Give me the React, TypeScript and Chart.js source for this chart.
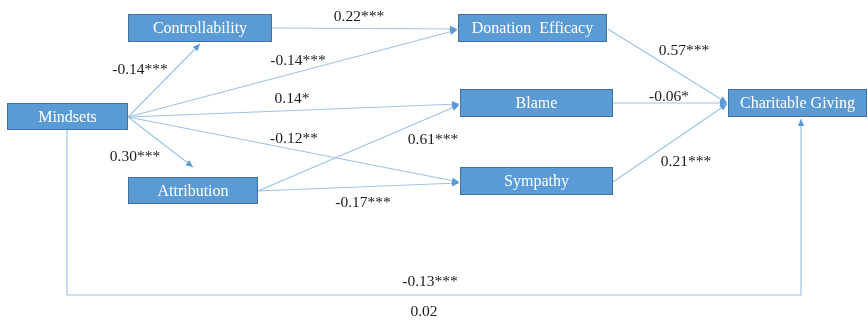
import React, { useEffect, useRef } from "react";
import { Chart, registerables } from "chart.js";

Chart.register(...registerables);

// Path-model nodes (variables)
const nodeNames = [
  "Mindsets",
  "Controllability",
  "Attribution",
  "Donation  Efficacy",
  "Blame",
  "Sympathy",
  "Charitable Giving",
];

// Path coefficients (as printed)
const coefficients = [
  "0.22***",
  "-0.14***",
  "-0.14***",
  "0.14*",
  "-0.12**",
  "0.30***",
  "0.61***",
  "-0.17***",
  "0.57***",
  "-0.06*",
  "0.21***",
  "-0.13***",
  "0.02",
];

// ---- layout (diagram coordinates, in the 868 x 320 frame) ----
const nodeBoxes: [number, number, number, number][] = [
  [7, 103, 128, 130],
  [128, 14, 272, 42],
  [128, 177, 258, 204],
  [458, 14, 607, 42],
  [460, 89, 613, 117],
  [460, 167, 613, 195],
  [728, 89, 867, 117],
];

const edgePaths: [number, number][][] = [
  [[272, 28], [457, 29]],
  [[128, 117], [200, 44]],
  [[128, 117], [457, 30]],
  [[128, 117], [459, 104]],
  [[128, 117], [459, 182]],
  [[128, 117], [193, 167]],
  [[258, 191], [459, 105]],
  [[258, 191], [459, 183]],
  [[608, 29], [727, 103]],
  [[613, 103], [727, 103]],
  [[613, 182], [727, 104]],
  [[67, 130], [67, 295], [801, 295], [801, 119]],
];

const labelPos: [number, number][] = [
  [359, 16],
  [140, 69],
  [298, 60],
  [292, 98],
  [294, 138],
  [135, 156],
  [433, 139],
  [363, 202],
  [684, 50],
  [669, 96],
  [686, 161],
  [430, 281],
  [424, 311],
];

const W = 868;
const H = 320;
const LINE = "#9dc3e6";
const ARROW = "#5b9bd5";
const FILL = "#5b9bd5";
const BORDER = "#41719c";

const diagramPlugin = {
  id: "diagram",
  afterDatasetsDraw(chart: any) {
    const ctx = chart.ctx;
    const xs = chart.scales.x;
    const ys = chart.scales.y;
    const px = (v: number) => xs.getPixelForValue(v);
    const py = (v: number) => ys.getPixelForValue(v);
    ctx.save();
    // arrowheads
    edgePaths.forEach((p) => {
      const a = p[p.length - 2];
      const b = p[p.length - 1];
      const x1 = px(a[0]), y1 = py(a[1]);
      const x2 = px(b[0]), y2 = py(b[1]);
      const ang = Math.atan2(y2 - y1, x2 - x1);
      const len = 7, wid = 3.2;
      ctx.beginPath();
      ctx.moveTo(x2, y2);
      ctx.lineTo(
        x2 - len * Math.cos(ang) + wid * Math.sin(ang),
        y2 - len * Math.sin(ang) - wid * Math.cos(ang)
      );
      ctx.lineTo(
        x2 - len * Math.cos(ang) - wid * Math.sin(ang),
        y2 - len * Math.sin(ang) + wid * Math.cos(ang)
      );
      ctx.closePath();
      ctx.fillStyle = ARROW;
      ctx.fill();
    });
    // boxes
    nodeBoxes.forEach((b, i) => {
      const x0 = px(b[0]), y0 = py(b[1]), x1 = px(b[2]), y1 = py(b[3]);
      ctx.fillStyle = FILL;
      ctx.fillRect(x0, y0, x1 - x0, y1 - y0);
      ctx.strokeStyle = BORDER;
      ctx.lineWidth = 1;
      ctx.strokeRect(x0 + 0.5, y0 + 0.5, x1 - x0 - 1, y1 - y0 - 1);
      ctx.fillStyle = "#ffffff";
      ctx.font = '16px "Liberation Serif", "Times New Roman", serif';
      ctx.textAlign = "center";
      ctx.textBaseline = "middle";
      ctx.fillText(nodeNames[i], (x0 + x1) / 2, (y0 + y1) / 2 + 1);
    });
    // coefficient labels
    ctx.fillStyle = "#1a1a1a";
    ctx.font = '15.5px "Liberation Serif", "Times New Roman", serif';
    ctx.textAlign = "center";
    ctx.textBaseline = "middle";
    coefficients.forEach((t, i) => {
      ctx.fillText(t, px(labelPos[i][0]), py(labelPos[i][1]) + 1);
    });
    ctx.restore();
  },
};

export default function App() {
  const ref = useRef<HTMLCanvasElement | null>(null);
  useEffect(() => {
    document.body.style.margin = "0";
    const canvas = ref.current;
    if (!canvas) return;
    const chart = new Chart(canvas, {
      type: "scatter",
      data: {
        datasets: edgePaths.map((p) => ({
          type: "line" as const,
          data: p.map(([x, y]) => ({ x, y })),
          borderColor: LINE,
          borderWidth: 1.2,
          pointRadius: 0,
          fill: false,
          tension: 0,
        })),
      },
      options: {
        animation: false,
        responsive: false,
        maintainAspectRatio: false,
        devicePixelRatio: 1,
        layout: { padding: 0 },
        plugins: { legend: { display: false }, tooltip: { enabled: false } },
        events: [],
        scales: {
          x: { type: "linear", min: 0, max: W, display: false },
          y: { type: "linear", min: 0, max: H, reverse: true, display: false },
        },
      },
      plugins: [diagramPlugin],
    });
    return () => chart.destroy();
  }, []);
  return (
    <div style={{ width: W, height: H, background: "#ffffff" }}>
      <canvas ref={ref} width={W} height={H} style={{ display: "block" }} />
    </div>
  );
}
